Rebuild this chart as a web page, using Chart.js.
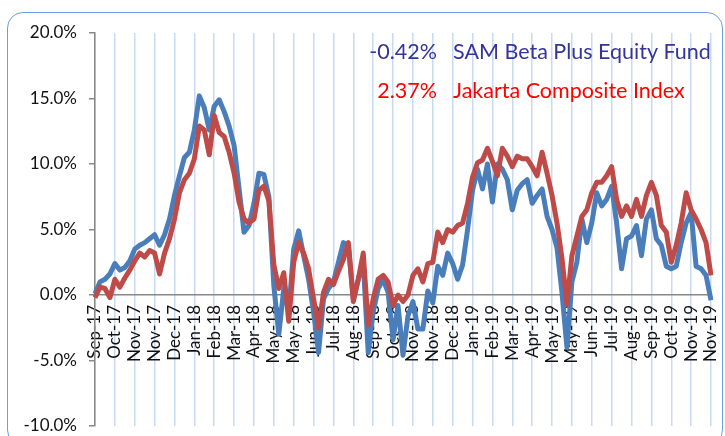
<!DOCTYPE html>
<html lang="en">
<head>
    <meta charset="UTF-8">
    <title>SAM Beta Plus Equity Fund vs Jakarta Composite Index</title>
    <script src="https://cdn.jsdelivr.net/npm/chart.js"></script>
    <style>
        html, body { margin: 0; padding: 0; background: #ffffff; overflow: hidden; }
        #wrap { position: relative; width: 725px; height: 436px; }
        #frame {
            position: absolute; left: 7px; top: 12px; width: 714px; height: 432px;
            border: 1.5px solid #6d9ede; border-radius: 16px;
        }
        #chart { position: absolute; left: 0; top: 0; }
    </style>
</head>
<body>
<div id="wrap">
    <div id="frame"></div>
    <canvas id="chart" width="725" height="436"></canvas>
</div>
<script>
    // month labels, one every 4 points
    const monthLabels = [
        'Sep-17', 'Oct-17', 'Nov-17', 'Nov-17', 'Dec-17', 'Jan-18', 'Feb-18', 'Mar-18',
        'Apr-18', 'May-18', 'May-18', 'Jun-18', 'Jul-18', 'Aug-18', 'Sep-18', 'Oct-18',
        'Nov-18', 'Nov-18', 'Dec-18', 'Jan-19', 'Feb-19', 'Mar-19', 'Apr-19', 'May-19',
        'May-19', 'Jun-19', 'Jul-19', 'Aug-19', 'Sep-19', 'Oct-19', 'Nov-19', 'Nov-19'
    ];
    const pointsPerLabel = 4;

    // cumulative return, %
    const fundValues = [
        0.1, 1.0, 1.2, 1.6, 2.4, 1.9, 2.1, 2.6, 3.5, 3.8,
        4.0, 4.3, 4.6, 3.8, 4.6, 5.8, 7.6, 9.1, 10.5, 10.9,
        12.6, 15.2, 14.3, 12.6, 14.4, 14.9, 14.0, 12.9, 11.4, 8.1,
        4.8, 5.3, 7.0, 9.3, 9.2, 7.5, 0.7, -3.0, 0.5, -1.3,
        3.5, 4.9, 3.0, 1.2, -1.3, -4.4, -0.3, 0.5, 1.0, 2.5,
        4.0, 3.8, -0.3, 1.2, 2.5, -4.4, -1.3, 0.5, 1.2, 0.2,
        -3.4, -0.8, -4.6, -1.6, -0.5, -2.6, -2.6, 0.3, -0.6, 2.2,
        1.5, 3.2, 2.4, 1.2, 2.3, 5.0, 8.0, 9.6, 8.1, 10.0,
        7.1, 10.0, 9.6, 8.8, 6.5, 8.0, 8.5, 8.8, 7.0, 7.6,
        8.1, 6.0, 5.0, 3.6, 0.2, -4.0, 1.0, 2.5, 5.8, 4.0,
        5.5, 7.8, 6.8, 7.3, 8.3, 5.5, 2.0, 4.3, 4.5, 5.3,
        3.0, 5.8, 6.5, 4.3, 3.8, 2.2, 2.0, 2.2, 4.0, 5.5,
        6.3, 2.2, 2.0, 1.5, -0.4
    ];
    const indexValues = [
        -0.2, 0.6, 0.5, -0.2, 1.2, 0.6, 1.3, 1.9, 2.6, 3.2,
        2.9, 3.4, 3.2, 1.6, 3.2, 4.3, 5.8, 7.8, 8.8, 9.3,
        10.4, 12.9, 12.6, 10.7, 13.7, 12.4, 12.1, 10.9, 9.3, 7.1,
        5.8, 5.5, 5.8, 8.0, 8.3, 7.2, 2.3, 0.5, 1.7, -2.0,
        2.5, 4.0, 3.2, 2.0, -0.3, -2.5, 0.2, 1.2, 0.8, 1.8,
        2.7, 4.0, -0.5, 1.2, 3.2, -2.3, -0.3, 1.2, 1.5, 1.0,
        -0.8, 0.0, -0.5, 0.0, 1.5, 2.0, 1.0, 2.4, 2.5, 4.8,
        4.0, 5.0, 4.8, 5.3, 5.5, 7.0, 9.0, 10.1, 10.3, 11.2,
        10.2, 9.1, 11.2, 10.6, 9.8, 10.6, 10.4, 10.4, 9.8, 9.1,
        10.9, 9.3, 7.6, 5.5, 2.8, -0.7, 3.0, 4.5, 6.0, 6.5,
        7.8, 8.6, 8.6, 9.1, 9.8, 7.3, 6.0, 6.8, 6.0, 7.3,
        6.0, 7.6, 8.6, 7.6, 5.3, 4.8, 2.5, 3.8, 5.5, 7.8,
        6.5, 5.8, 5.0, 4.0, 1.5
    ];

    const legendRows = [
        { value: '-0.42%', name: 'SAM Beta Plus Equity Fund', color: '#34349a' },
        { value: '2.37%', name: 'Jakarta Composite Index', color: '#ff0000' }
    ];

    const yTicks = { min: -10, max: 20, step: 5 };

    // one category per data point, month text on every 4th one
    const labels = fundValues.map((v, i) =>
        i % pointsPerLabel === 0 ? monthLabels[i / pointsPerLabel] : '');

    const fontFamily = 'Lato, "Liberation Sans", sans-serif';

    // return figures and names in the upper right
    const legendText = {
        id: 'legendText',
        afterDraw(chart) {
            const c = chart.ctx;
            c.save();
            c.font = '21.5px ' + fontFamily;
            c.textBaseline = 'middle';
            legendRows.forEach((row, k) => {
                const y = 52 + k * 39;
                c.fillStyle = row.color;
                c.textAlign = 'right';
                c.fillText(row.value, 437, y);
                c.textAlign = 'left';
                c.fillText(row.name, 453, y);
            });
            c.restore();
        }
    };

    // scales should not push the plot area in; the layout padding does that
    const noScalePadding = s => {
        s.paddingLeft = 0;
        s.paddingRight = 0;
        s.paddingTop = 0;
        s.paddingBottom = 0;
    };

    const ctx = document.getElementById('chart').getContext('2d');
    new Chart(ctx, {
        type: 'line',
        data: {
            labels: labels,
            datasets: [
                {
                    label: 'SAM Beta Plus Equity Fund',
                    data: fundValues,
                    borderColor: '#4a7ebb',
                    borderWidth: 5,
                    pointRadius: 0,
                    tension: 0,
                    borderJoinStyle: 'round',
                    order: 2
                },
                {
                    label: 'Jakarta Composite Index',
                    data: indexValues,
                    borderColor: '#be4b48',
                    borderWidth: 5,
                    pointRadius: 0,
                    tension: 0,
                    borderJoinStyle: 'round',
                    order: 1
                }
            ]
        },
        options: {
            responsive: false,
            animation: false,
            layout: { padding: { left: 0, top: 33, right: 14, bottom: 10 } },
            plugins: { legend: { display: false }, tooltip: { enabled: false } },
            scales: {
                x: {
                    type: 'category',
                    position: { y: 0 },
                    offset: false,
                    afterFit: noScalePadding,
                    border: { color: '#888888', width: 1.5 },
                    grid: {
                        color: c => (c.index % pointsPerLabel === 0 ? '#c8daf1' : 'rgba(0,0,0,0)'),
                        lineWidth: 1.5,
                        drawTicks: false
                    },
                    ticks: {
                        autoSkip: false,
                        maxRotation: 90,
                        minRotation: 90,
                        padding: 10,
                        color: '#111111',
                        font: { family: fontFamily, size: 17 }
                    }
                },
                y: {
                    min: yTicks.min,
                    max: yTicks.max,
                    afterFit: s => { noScalePadding(s); s.width = 95; },
                    border: { color: '#888888', width: 1.5 },
                    grid: {
                        drawOnChartArea: false,
                        drawTicks: true,
                        tickLength: 6,
                        color: '#888888',
                        lineWidth: 1.5
                    },
                    ticks: {
                        stepSize: yTicks.step,
                        padding: 12,
                        color: '#111111',
                        font: { family: fontFamily, size: 17 },
                        callback: v => v.toFixed(1) + '%'
                    }
                }
            }
        },
        plugins: [legendText]
    });
</script>
</body>
</html>
